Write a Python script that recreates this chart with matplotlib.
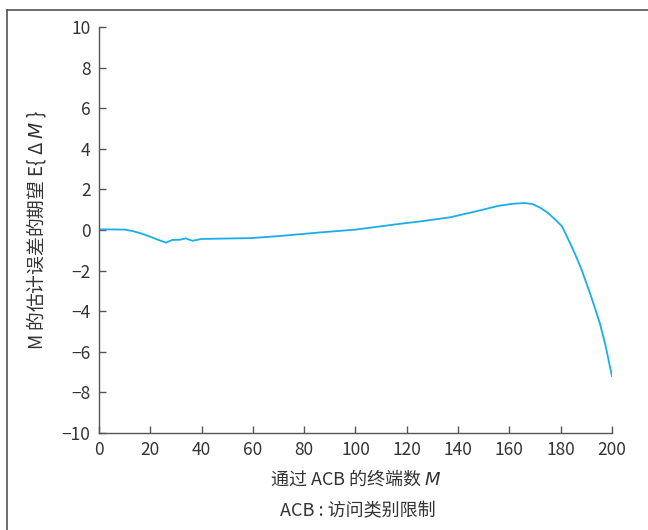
import numpy as np
import matplotlib.pyplot as plt
from matplotlib.lines import Line2D

plt.rcParams['font.family'] = ['Noto Sans CJK SC', 'DejaVu Sans']
plt.rcParams['axes.unicode_minus'] = True

# expected estimation error of M vs number of terminals passing ACB
m_vals = [0, 5, 10, 13, 16, 20, 23, 26.1, 28.6, 31.6, 33.8, 36.4, 40, 49, 59,
          70, 86, 100, 117, 125, 137, 147, 156, 162, 166, 169, 172, 175,
          178, 180.4, 182, 184.3, 186, 188.2, 191.4, 193.5, 195.3, 197.5, 200]
err_vals = [0.03, 0.03, 0.02, -0.05, -0.15, -0.33, -0.48, -0.62, -0.49, -0.48,
            -0.41, -0.53, -0.44, -0.42, -0.4, -0.3, -0.12, 0.02, 0.3, 0.42,
            0.63, 0.92, 1.2, 1.3, 1.33, 1.28, 1.1, 0.85, 0.5, 0.2, -0.2,
            -0.82, -1.3, -1.97, -3.1, -3.9, -4.6, -5.7, -7.2]

fig = plt.figure(figsize=[6.48, 5.30], dpi=100)
ax = fig.add_axes([0.1528, 0.183, 0.7916, 0.766])

ax.plot(m_vals, err_vals, color='#1aaee8', lw=1.3)

ax.set_xlim(0, 200)
ax.set_ylim(-10, 10)
ax.set_xticks(np.arange(0, 201, 20))
ax.set_yticks(np.arange(-10, 11, 2))
for s in ['top', 'right']:
    ax.spines[s].set_visible(False)
for s in ['left', 'bottom']:
    ax.spines[s].set_color('#555555')
    ax.spines[s].set_linewidth(1.0)
ax.tick_params(direction='in', length=5, width=1.0, color='#555555',
               labelsize=12.5, labelcolor='#333333', pad=6)

ax.set_xlabel('通过 ACB 的终端数 $M$', fontsize=13, color='#333333', labelpad=6)
ax.set_ylabel('M 的估计误差的期望 E{ Δ $M$ }', fontsize=13.5, color='#333333', labelpad=10)
fig.text(0.5525, 0.035, 'ACB : 访问类别限制', fontsize=13, color='#333333',
         ha='center', va='center')

# frame lines at top and left
fig.add_artist(Line2D([7/648, 1], [1-10/530, 1-10/530], color='#555555', lw=1.2))
fig.add_artist(Line2D([7/648, 7/648], [0, 1-10/530], color='#555555', lw=1.2))

fig.savefig('out.png', dpi=100)
